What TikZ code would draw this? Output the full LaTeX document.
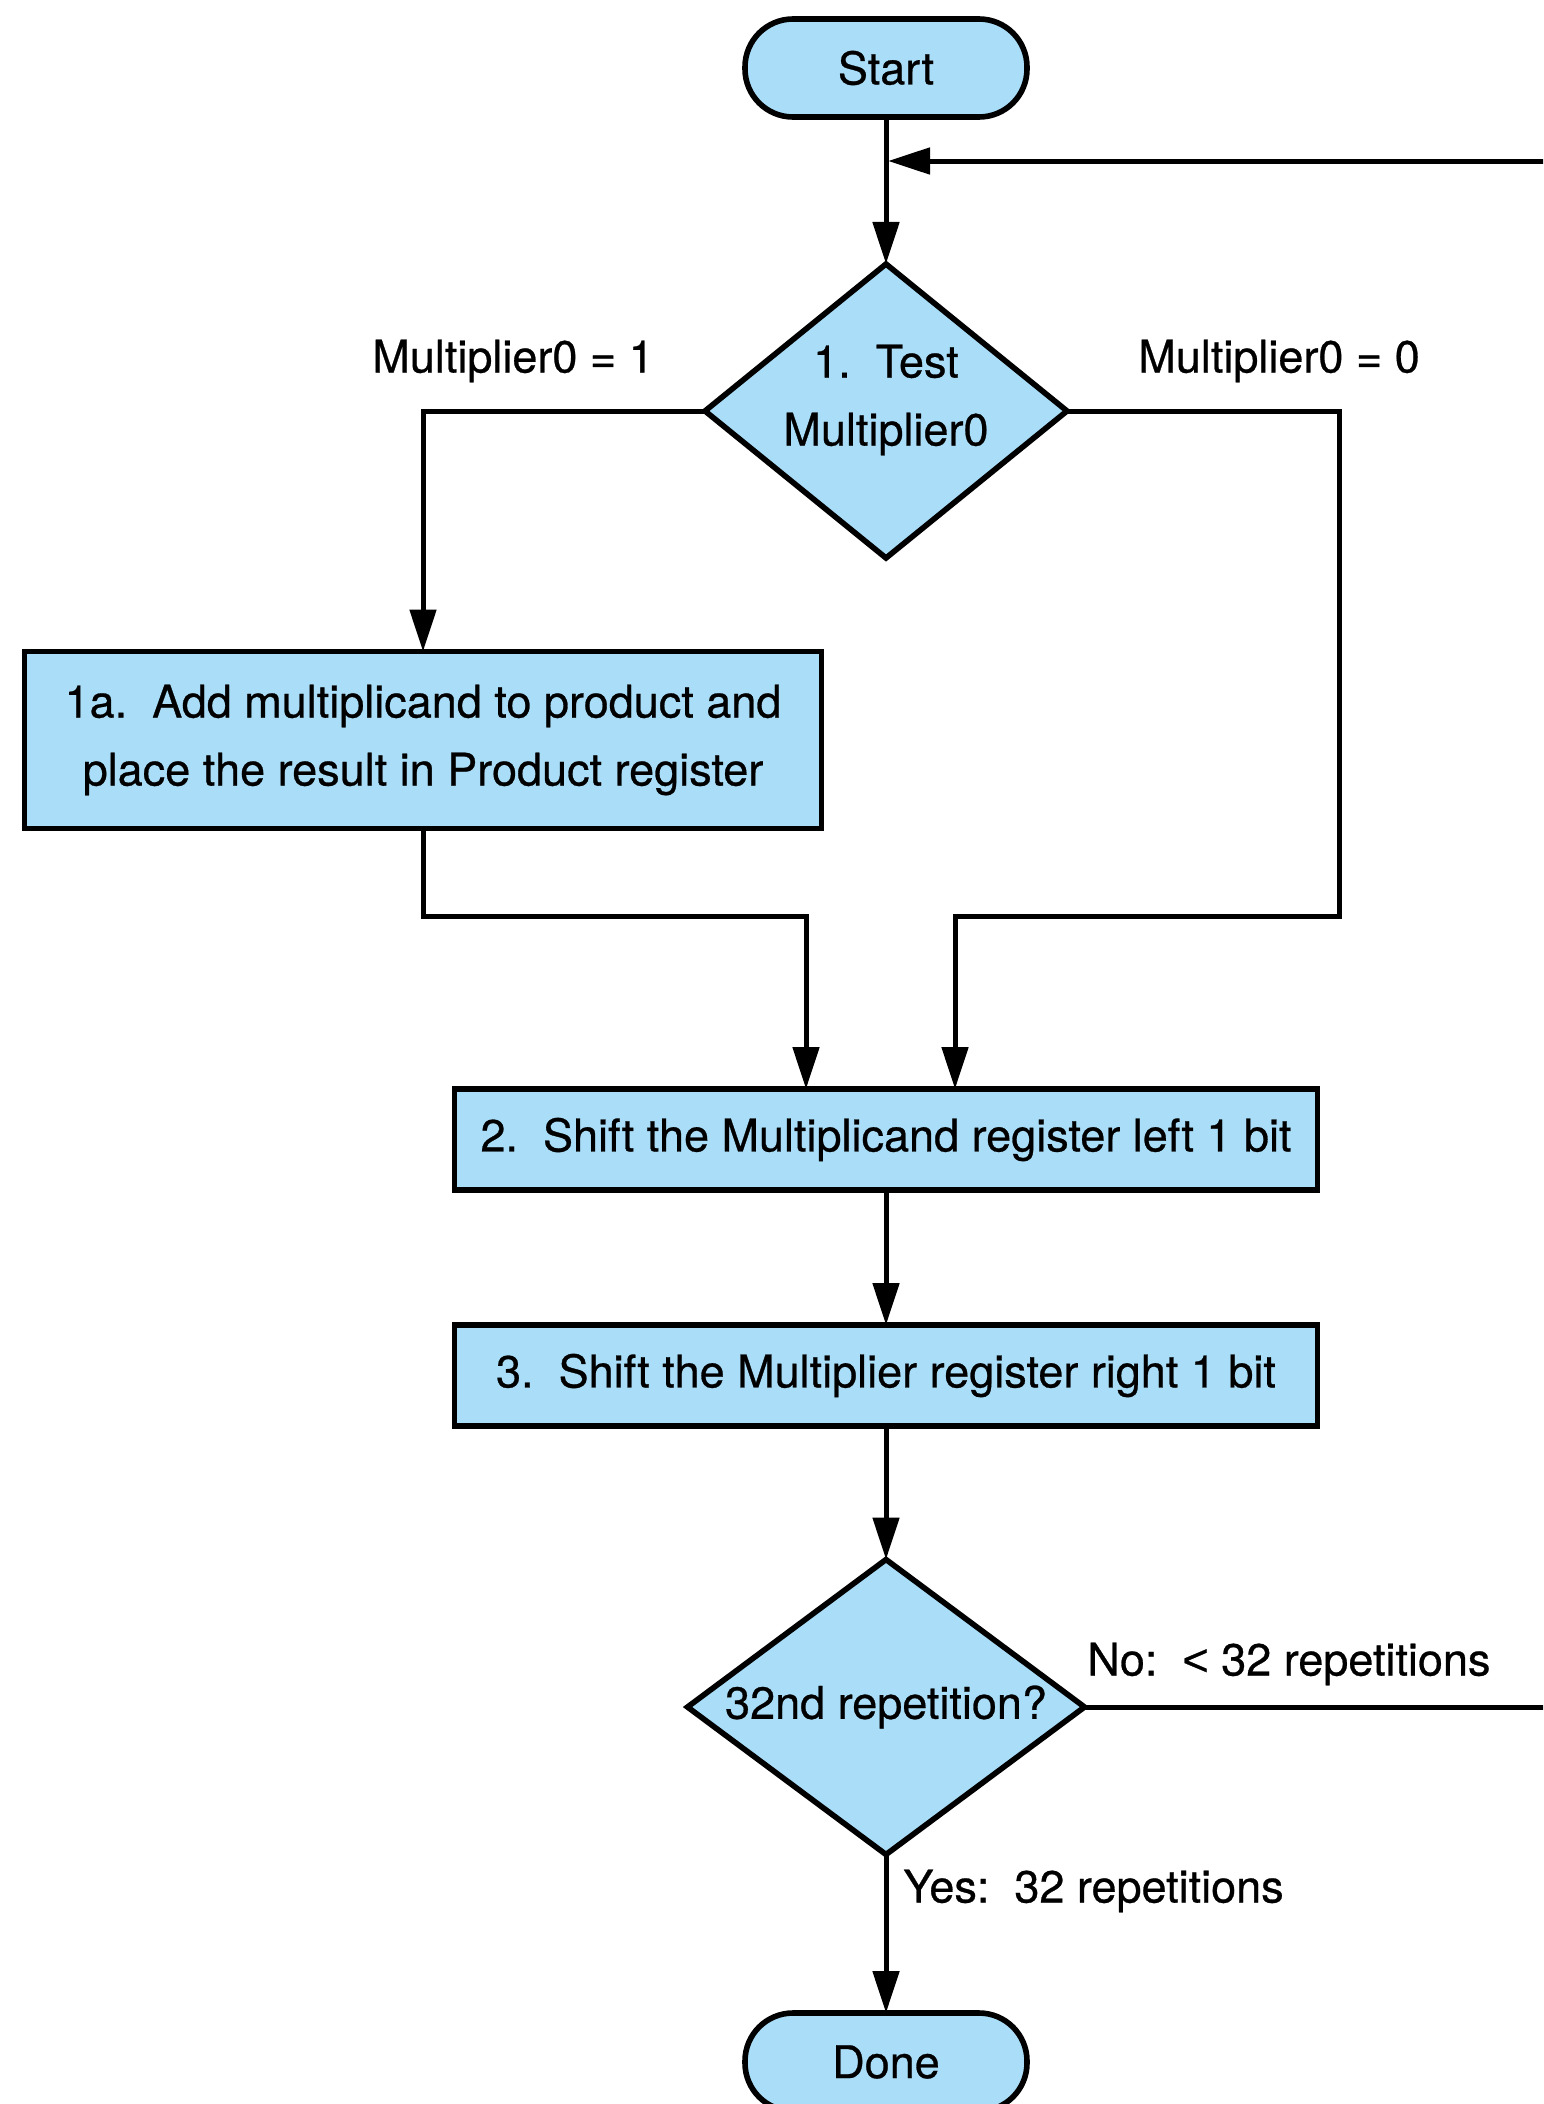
\documentclass[tikz,border=0pt]{standalone}
\usepackage{fontspec}
\setmainfont[FakeBold=0.6]{TeX Gyre Heros}
\newfontfamily\libsans[FakeBold=0.6]{Liberation Sans}
\usetikzlibrary{shapes.geometric,arrows.meta}
\definecolor{boxblue}{RGB}{170,222,248}
\begin{document}
\begin{tikzpicture}[x=0.5pt,y=-0.5pt,
  every node/.style={font=\fontsize{22.5}{34}\selectfont, text=black},
  ln/.style={line width=2.5pt, draw=black},
  arr/.style={ln, -{Triangle[length=21pt,width=13pt]}},
  terminal/.style={draw=black, line width=2.8pt, fill=boxblue, rounded corners=24pt, minimum width=141pt, minimum height=49pt, inner sep=0pt, outer sep=0pt},
  procbox/.style={draw=black, line width=2.8pt, fill=boxblue, inner sep=0pt, outer sep=0pt, align=center},
  decision/.style={diamond, draw=black, line width=2.8pt, fill=boxblue, inner sep=0pt, outer sep=0pt},
  dectext/.style={inner sep=0pt, align=center},
  lbl/.style={anchor=west, inner sep=0pt}]
\useasboundingbox (0,0) rectangle (1543,2104);
\clip (0,0) rectangle (1543,2104);
\fill[white] (0,0) rectangle (1543,2104);

\node[terminal] (start) at (886,68) {Start};
\node[decision, minimum width=181pt, minimum height=147pt] (test) at (886,411) {};
\node[dectext] (testtxt) at (886,400) {1.~~Test\\Multiplier0};
\node[procbox, minimum width=398.5pt, minimum height=88.5pt] (add) at (423,740) {1a.~~Add multiplicand to product and\\place the result in Product register};
\node[procbox, minimum width=431.5pt, minimum height=50.5pt] (shl) at (886,1139.5) {2.~~Shift the Multiplicand register left 1 bit};
\node[procbox, minimum width=431.5pt, minimum height=50.5pt] (shr) at (886,1375.5) {3.~~Shift the Multiplier register right 1 bit};
\node[decision, minimum width=198.5pt, minimum height=147.5pt] (rep) at (886,1707) {};
\node[dectext] (reptxt) at (886,1707) {32nd repetition?};
\node[terminal] (done) at (886,2062) {Done};

\node[lbl] (l1) at (372,361) {Multiplier0 = 1};
\node[lbl] (l0) at (1138,361) {Multiplier0 = 0};
\node[lbl] (lno) at (1087,1664) {No:~~{\libsans <} 32 repetitions};
\node[lbl] (lyes) at (903,1891) {Yes:~~32 repetitions};

\coordinate (loopR) at (1560,161);
\coordinate (loopIn) at (888,161);
\coordinate (noR) at (1560,1707);
\coordinate (m1) at (806,916);
\coordinate (r1) at (1339,916);
\coordinate (m2) at (955,916);

\draw[arr] (start) -- (test);
\draw[arr] (loopR) -- (loopIn);
\draw[arr] (test.west) -| (add.north);
\draw[arr] (add.south) |- (m1) -- (m1 |- shl.north);
\draw[arr] (test.east) -| (r1) -- (m2) -- (m2 |- shl.north);
\draw[arr] (shl) -- (shr);
\draw[arr] (shr) -- (rep);
\draw[ln] (rep.east) -- (noR);
\draw[arr] (rep) -- (done);
\end{tikzpicture}
\end{document}
